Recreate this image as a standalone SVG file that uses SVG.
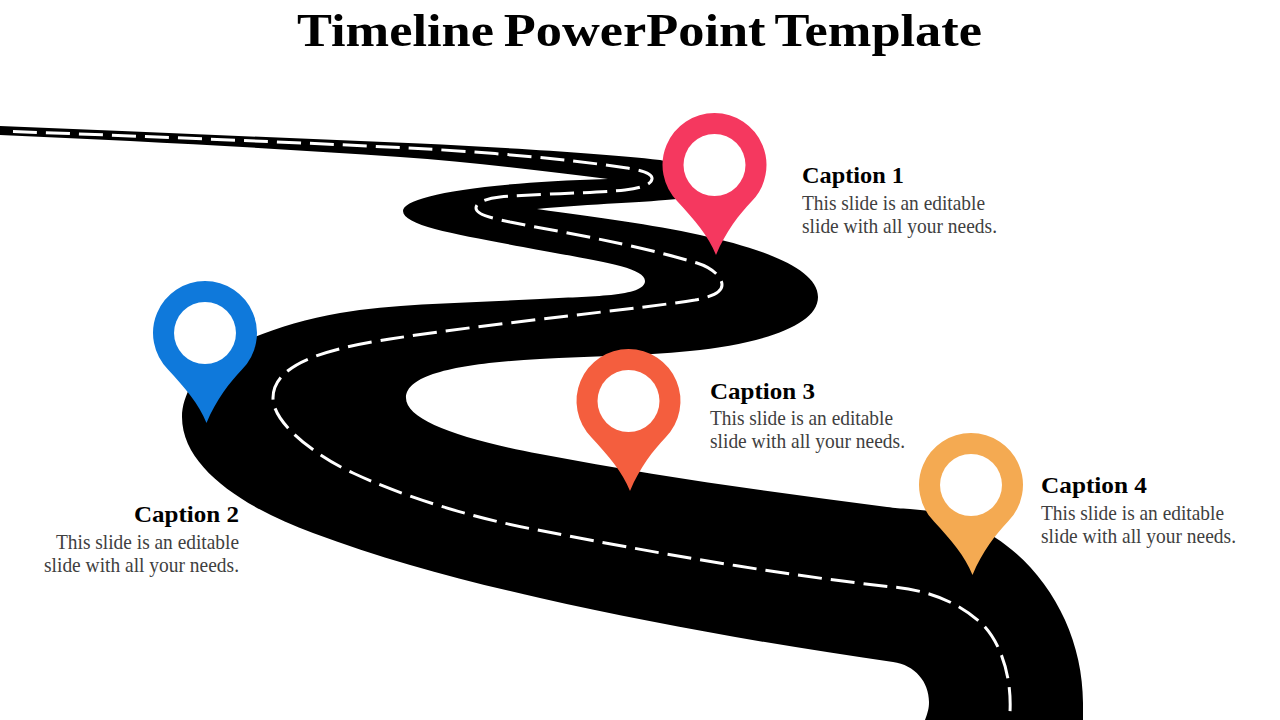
<svg xmlns="http://www.w3.org/2000/svg" width="1280" height="720" viewBox="0 0 1280 720">
<style>
.t{font-family:"Liberation Serif","Times New Roman",serif;font-weight:700;font-size:47px;fill:#000;word-spacing:-3px}
.h{font-family:"Liberation Serif","Times New Roman",serif;font-weight:700;font-size:24px;fill:#000}
.b{font-family:"Liberation Serif","Times New Roman",serif;font-size:21px;fill:#404040}
.d{fill:none;stroke:#fff;stroke-width:3;stroke-dasharray:24 9}
</style>
<defs>
<g id="pin">
<path d="M0,-52A52,52 0 0 1 37,36.500C25,49 11,67 1.500,90C-6,71 -20,55 -37,36.500A52,52 0 0 1 0,-52Z"/>
<circle r="31" fill="#fff"/>
</g>
</defs>
<rect width="1280" height="720" fill="#fff"/>
<g id="road">
<path fill="#000" d="M0,126C140,132 280,137.500 420,143.500C500,147.500 600,153 660,160C690,165 705,185 677,199C650,202 590,204 537,209C600,218 650,224 700,235C760,248 818,268 818,297C818,326 760,344 690,351C640,356 590,356 540,359C470,363 406,372 406,398C406,420 460,439 540,454C655,476 770,492 887,507C895,508 900,508.500 910,509C1010,515 1083,605 1083,703V720H925C928,712 929,708 929,702C929,682 915,665 893,662C780,646 650,623 540,598C460,580 385,560 313,533C250,510 182,470 182,417C182,395 197,372 215,358C235,343 285,322 340,313C400,303 470,303 540,299C590,296 645,297 645,281C645,266 590,260 523,247C460,235 403,226 403,211C403,197 470,183 608,179C545,171 470,162 400,157C270,148 140,141 0,135Z"/>
<path class="d" d="M13,131.500C150,136.500 300,142.500 408,148C480,151.700 560,158 627,168C640,170 653,173 652,179C651,185 640,188 625,190C600,193 530,194 500,197C488,198 476,202 476,208C476,215 492,218 510,222C560,232 630,243 697,263C710,267 722,276 722,285C722,293 710,297 695,300C640,309 500,322 390,339C340,347 273,360 273,398C273,425 320,458 353,473C400,495 470,518 543,531C650,552 780,575 893,587C925,590 955,600 980,622C998,638 1012,672 1010,712"/>
</g>
<g id="pin1"><use href="#pin" x="714.500" y="165" fill="#F5385F"/></g>
<g id="pin2"><use href="#pin" x="205" y="333" fill="#0F79DB"/></g>
<g id="pin3"><use href="#pin" x="628.500" y="401" fill="#F45E3E"/></g>
<g id="pin4"><use href="#pin" x="971" y="485" fill="#F4AA52"/></g>
<text class="t" x="297" y="46" textLength="685" lengthAdjust="spacingAndGlyphs">Timeline PowerPoint Template</text>
<g id="caption1">
<text class="h" x="802" y="183" textLength="102" lengthAdjust="spacingAndGlyphs">Caption 1</text>
<text class="b" x="802" y="210" textLength="183" lengthAdjust="spacingAndGlyphs">This slide is an editable</text>
<text class="b" x="802" y="233" textLength="195" lengthAdjust="spacingAndGlyphs">slide with all your needs.</text>
</g>
<g id="caption2">
<text class="h" x="134" y="522" textLength="105" lengthAdjust="spacingAndGlyphs">Caption 2</text>
<text class="b" x="56" y="549" textLength="183" lengthAdjust="spacingAndGlyphs">This slide is an editable</text>
<text class="b" x="44" y="572" textLength="195" lengthAdjust="spacingAndGlyphs">slide with all your needs.</text>
</g>
<g id="caption3">
<text class="h" x="710" y="399" textLength="105" lengthAdjust="spacingAndGlyphs">Caption 3</text>
<text class="b" x="710" y="425" textLength="183" lengthAdjust="spacingAndGlyphs">This slide is an editable</text>
<text class="b" x="710" y="448" textLength="195" lengthAdjust="spacingAndGlyphs">slide with all your needs.</text>
</g>
<g id="caption4">
<text class="h" x="1041" y="493" textLength="106" lengthAdjust="spacingAndGlyphs">Caption 4</text>
<text class="b" x="1041" y="520" textLength="183" lengthAdjust="spacingAndGlyphs">This slide is an editable</text>
<text class="b" x="1041" y="543" textLength="195" lengthAdjust="spacingAndGlyphs">slide with all your needs.</text>
</g>
</svg>
